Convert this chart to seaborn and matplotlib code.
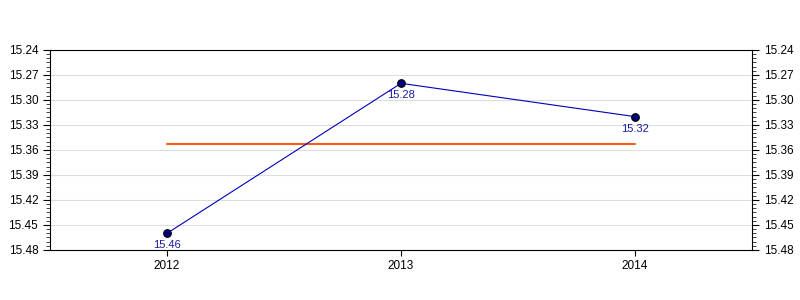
import matplotlib
matplotlib.use("Agg")
import matplotlib.pyplot as plt
import seaborn as sns
import pandas as pd
import numpy as np
from matplotlib.ticker import MultipleLocator, FormatStrFormatter

years = ["2012", "2013", "2014"]
values = [15.46, 15.28, 15.32]
avg_value = 15.3533
y_ticks = [15.24, 15.27, 15.30, 15.33, 15.36, 15.39, 15.42, 15.45, 15.48]

df = pd.DataFrame({"year": years, "value": values})

sns.set_style("white")
plt.rcParams['font.family'] = ['Liberation Sans', 'DejaVu Sans']

fig = plt.figure(figsize=(8, 3), dpi=100)
ax = fig.add_axes([0.0625, 0.1667, 0.8775, 0.6667])

x = np.arange(len(years))
sns.lineplot(x=x, y=df["value"], ax=ax, color="#0000bb", linewidth=0.8,
             marker="o", markersize=5.5, markerfacecolor="#000080",
             markeredgecolor="black", markeredgewidth=0.8, zorder=4)
ax.plot([x[0], x[-1]], [avg_value, avg_value], color="#ff5a14", linewidth=1.5, zorder=3)

for xi, v in zip(x, values):
    ax.annotate(f"{v:.2f}", (xi, v), xytext=(0, -5), textcoords="offset points",
                ha="center", va="top", fontsize=8, color="#1a1aa0", zorder=5)

ax.set_xlim(-0.5, 2.5)
ax.set_ylim(15.48, 15.24)
ax.set_xticks(x)
ax.set_xticklabels(years)
ax.set_yticks(y_ticks)
ax.yaxis.set_major_formatter(FormatStrFormatter("%.2f"))
ax.yaxis.set_minor_locator(MultipleLocator(0.005))
ax.grid(axis="y", color="#dddddd", linewidth=0.8, zorder=0)
ax.set_axisbelow(True)
ax.set_xlabel("")
ax.set_ylabel("")
for s in ax.spines.values():
    s.set_color("black")
    s.set_linewidth(0.8)

ax.tick_params(axis="x", direction="out", length=4, width=0.8, labelsize=8.5, colors="black", bottom=True, top=False)
ax.tick_params(axis="y", which="major", direction="out", length=5, width=0.8, labelsize=8.5,
               left=True, right=True, labelleft=True, labelright=True, colors="black")
ax.tick_params(axis="y", which="minor", direction="out", length=3, width=0.6, left=True, right=True)

fig.savefig("out.png", dpi=100, facecolor="white")
